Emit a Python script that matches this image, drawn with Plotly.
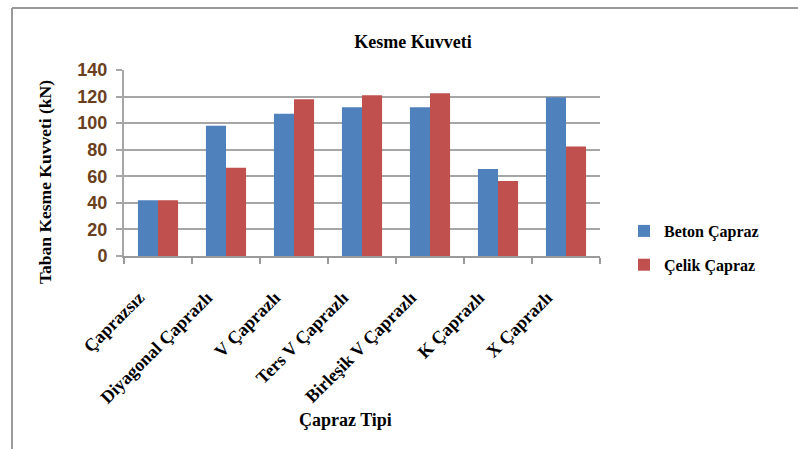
import plotly.graph_objects as go

# Brace types and base shear forces (kN)
categories = ["Çaprazsız", "Diyagonal Çaprazlı", "V Çaprazlı", "Ters V Çaprazlı",
              "Birleşik V Çaprazlı", "K Çaprazlı", "X Çaprazlı"]
beton = [42, 98, 107, 112, 112, 65.5, 119.5]
celik = [42, 66.5, 118, 121, 122.5, 56.5, 82.5]
y_ticks = [0, 20, 40, 60, 80, 100, 120, 140]

serif = "Liberation Serif, Times New Roman, serif"
sans = "Liberation Sans, Arial, sans-serif"

# plot area in pixels: left 124, right 600, top 70, bottom 256
PX_L, PX_R, PX_T, PX_B = 124, 600, 70, 256


def px_x(px):
    return (px - PX_L) / (PX_R - PX_L)


def px_y(py):
    return (PX_B - py) / (PX_B - PX_T)


fig = go.Figure()
fig.add_trace(go.Bar(name="<b>Beton Çapraz</b>", x=categories, y=beton,
                     marker=dict(color="#4F81BD", line=dict(width=0)),
                     legendgroup="a"))
fig.add_trace(go.Bar(name="<b>Çelik Çapraz</b>", x=categories, y=celik,
                     marker=dict(color="#C0504D", line=dict(width=0)),
                     legendgroup="b"))

fig.update_layout(
    width=798, height=449,
    margin=dict(l=PX_L, r=798 - PX_R, t=PX_T, b=449 - PX_B, autoexpand=False),
    paper_bgcolor="white", plot_bgcolor="white",
    barmode="group", bargap=0.41, bargroupgap=0,
    title=dict(text="<b>Kesme Kuvveti</b>", x=413 / 798, xanchor="center",
               y=1 - 42 / 449, yanchor="middle", yref="container",
               font=dict(family=serif, size=18, color="black")),
    legend=dict(x=px_x(624), xanchor="left", y=px_y(214), yanchor="top",
                traceorder="grouped", tracegroupgap=10,
                font=dict(family=serif, size=16, color="black"),
                bgcolor="rgba(0,0,0,0)", itemwidth=30),
    showlegend=True,
)

fig.update_xaxes(
    type="category", showgrid=False,
    showline=True, linecolor="#9a9a9a", linewidth=2,
    ticks="outside", tickson="boundaries", ticklen=6, tickcolor="#9a9a9a", tickwidth=2,
    tickangle=-45, ticklabelstandoff=22, ticklabelshift=-19,
    tickfont=dict(family=serif, size=18, color="black", weight="bold"),
)
fig.update_yaxes(
    range=[0, 140], autorange=False, tickvals=y_ticks,
    showgrid=True, gridcolor="#a6a6a6", gridwidth=2,
    showline=True, linecolor="#a6a6a6", linewidth=2,
    ticks="outside", ticklen=6, tickcolor="#a6a6a6", tickwidth=2,
    ticklabelstandoff=5,
    tickfont=dict(family=sans, size=18, color="#6a4020", weight="bold"),
    zeroline=False,
)

# y-axis title
fig.add_annotation(text="<b>Taban Kesme Kuvveti (kN)</b>", xref="paper", yref="paper",
                   x=px_x(45), y=px_y(182), xanchor="center", yanchor="middle",
                   textangle=-90, showarrow=False,
                   font=dict(family=serif, size=17.5, color="black"))

# x-axis title
fig.add_annotation(text="<b>Çapraz Tipi</b>", xref="paper", yref="paper",
                   x=px_x(345), y=px_y(420), xanchor="center", yanchor="middle",
                   showarrow=False, font=dict(family=serif, size=18, color="black"))

# Outer chart frame (left and top edges)
fig.add_shape(type="line", xref="paper", yref="paper",
              x0=px_x(12), x1=px_x(12), y0=px_y(8), y1=px_y(452),
              line=dict(color="#9a9a9a", width=2))
fig.add_shape(type="line", xref="paper", yref="paper",
              x0=px_x(12), x1=px_x(800), y0=px_y(8), y1=px_y(8),
              line=dict(color="#9a9a9a", width=2))

fig.write_html("out.html")
